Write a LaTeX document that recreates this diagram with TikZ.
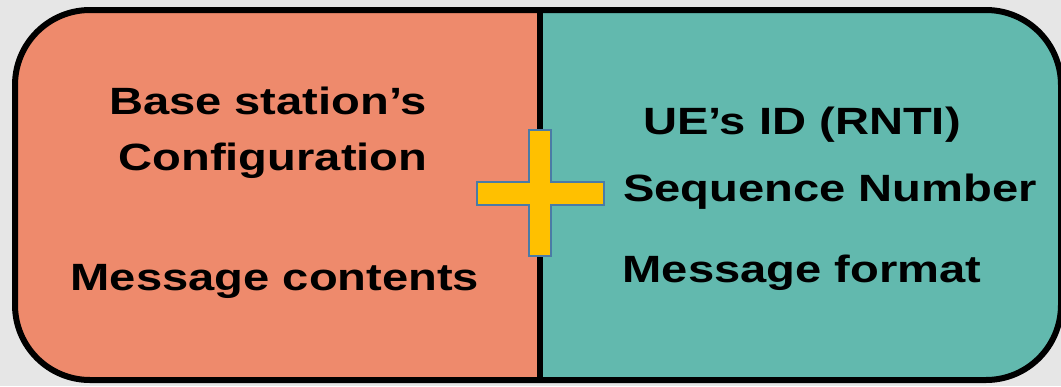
\documentclass[tikz,border=0pt]{standalone}
\usepackage{fontspec}
\setmainfont{Liberation Sans}
\definecolor{bggray}{HTML}{E6E6E6}
\definecolor{salmon}{HTML}{EE8A6C}
\definecolor{seagreen}{HTML}{62B9AE}
\definecolor{plusfill}{HTML}{FFC000}
\definecolor{plusedge}{HTML}{4A7BA6}
\begin{document}
\begin{tikzpicture}[x=1pt,y=-1pt,
  lbl/.style={font=\fontsize{38}{44}\selectfont\bfseries, anchor=base,
              inner sep=0pt, xscale=1.24, text=black},
  frame/.style={line width=6pt, rounded corners=75pt}]
\useasboundingbox (0,0) rectangle (1061,386);
\fill[bggray] (0,0) rectangle (1061,386);

% two coloured halves inside the rounded frame
\begin{scope}
  \clip[rounded corners=75pt] (15,10) rectangle (1061,380);
  \fill[salmon] (0,0) rectangle (540,386);
  \fill[seagreen] (540,0) rectangle (1061,386);
\end{scope}

% divider and frame
\coordinate (divtop) at (540,10);
\coordinate (divbot) at (540,380);
\draw[line width=6pt] (divtop) -- (divbot);
\draw[frame] (15,10) rectangle (1061,380);

% plus sign
\draw[fill=plusfill, draw=plusedge, line width=2pt]
  (529,130) -- (551,130) -- (551,182) -- (604,182) -- (604,205)
  -- (551,205) -- (551,256) -- (529,256) -- (529,205) -- (477,205)
  -- (477,182) -- (529,182) -- cycle;

% left column
\node[lbl] (base) at (268,114) {Base station’s};
\node[lbl] (conf) at (273,170) {Configuration};
\node[lbl] (msgc) at (275,290) {Message contents};

% right column
\node[lbl] (ueid) at (802,134) {UE’s ID (RNTI)};
\node[lbl] (seqn) at (830,201) {Sequence Number};
\node[lbl] (msgf) at (802,282) {Message format};
\end{tikzpicture}
\end{document}
